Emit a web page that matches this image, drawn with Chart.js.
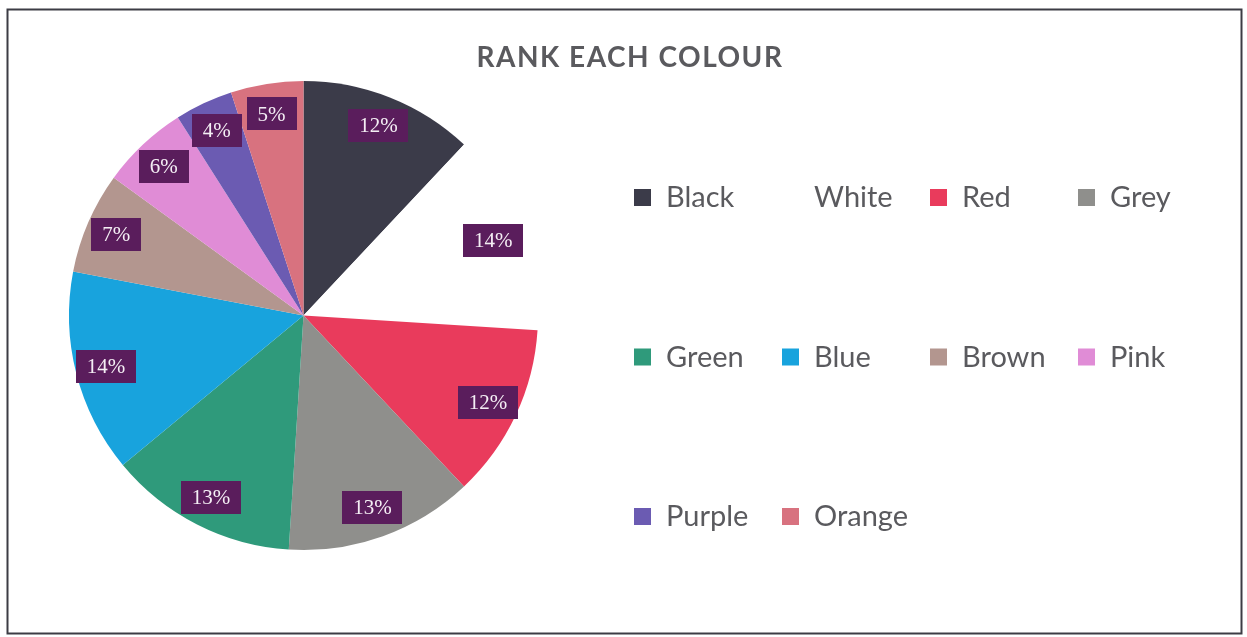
<!DOCTYPE html>
<html>
<head>
<meta charset="utf-8">
<script src="https://cdn.jsdelivr.net/npm/chart.js@4.4.0/dist/chart.umd.min.js"></script>
<style>
  html, body { margin: 0; padding: 0; background: #ffffff; }
  #wrap { width: 1247px; height: 637px; position: relative; }
</style>
</head>
<body>
<div id="wrap"><canvas id="c" width="1247" height="637"></canvas></div>
<script>
const categories = ["Black", "White", "Red", "Grey", "Green", "Blue", "Brown", "Pink", "Purple", "Orange"];
const shares = [12, 14, 12, 13, 13, 14, 7, 6, 4, 5];
const sliceColors = ["#3b3b49", "#ffffff", "#e93b5c", "#8f8f8c", "#2f9a7b", "#18a3dd", "#b3968f", "#e08cd6", "#6b5bb2", "#d8727f"];
const chartTitle = "RANK EACH COLOUR";

const frame = {
  id: "frame",
  beforeDraw(chart) {
    const ctx = chart.ctx;
    ctx.save();
    ctx.fillStyle = "#ffffff";
    ctx.fillRect(0, 0, chart.width, chart.height);
    ctx.strokeStyle = "#3c3c44";
    ctx.lineWidth = 2;
    ctx.strokeRect(7.5, 9.5, 1234, 624);
    ctx.font = "bold 28px Lato";
    ctx.fillStyle = "#5a5a5e";
    ctx.textAlign = "center";
    ctx.textBaseline = "middle";
    if ("letterSpacing" in ctx) ctx.letterSpacing = "1.5px";
    ctx.fillText(chartTitle, 630, 58);
    ctx.restore();
  }
};

const sliceLabels = {
  id: "sliceLabels",
  afterDatasetsDraw(chart) {
    const ctx = chart.ctx;
    const meta = chart.getDatasetMeta(0);
    const data = chart.data.datasets[0].data;
    const total = data.reduce((a, b) => a + b, 0);
    ctx.save();
    ctx.font = "21px 'Liberation Serif'";
    ctx.textAlign = "center";
    ctx.textBaseline = "middle";
    meta.data.forEach((arc, i) => {
      const p = arc.getProps(["x", "y", "startAngle", "endAngle", "outerRadius"], true);
      const mid = (p.startAngle + p.endAngle) / 2;
      const r = p.outerRadius * 0.87;
      const x = p.x + Math.cos(mid) * r;
      const y = p.y + Math.sin(mid) * r;
      const txt = Math.round(data[i] / total * 100) + "%";
      const w = ctx.measureText(txt).width + 22;
      const h = 33;
      ctx.fillStyle = "#5a1d5c";
      ctx.fillRect(Math.round(x - w / 2), Math.round(y - h / 2), Math.round(w), h);
      ctx.fillStyle = "#f4eef4";
      ctx.fillText(txt, x, y + 1);
    });
    ctx.restore();
  }
};

const gridLegend = {
  id: "gridLegend",
  afterDraw(chart) {
    const ctx = chart.ctx;
    const labels = chart.data.labels;
    const colors = chart.data.datasets[0].backgroundColor;
    ctx.save();
    ctx.font = "29px Lato";
    ctx.textAlign = "left";
    ctx.textBaseline = "middle";
    labels.forEach((lab, i) => {
      const col = i % 4, row = Math.floor(i / 4);
      const bx = 634 + col * 148;
      const cy = 198 + row * 159.5;
      ctx.fillStyle = colors[i];
      ctx.fillRect(bx, cy - 9, 17, 17);
      ctx.fillStyle = "#5a5a5e";
      ctx.fillText(lab, bx + 32, cy);
    });
    ctx.restore();
  }
};

new Chart(document.getElementById("c"), {
  type: "pie",
  data: {
    labels: categories,
    datasets: [{
      data: shares,
      backgroundColor: sliceColors,
      borderWidth: 0
    }]
  },
  options: {
    responsive: false,
    animation: false,
    layout: { padding: { left: 69, top: 81, right: 709, bottom: 87 } },
    plugins: {
      legend: { display: false },
      title: { display: false },
      tooltip: { enabled: false }
    }
  },
  plugins: [frame, sliceLabels, gridLegend]
});
</script>
</body>
</html>
